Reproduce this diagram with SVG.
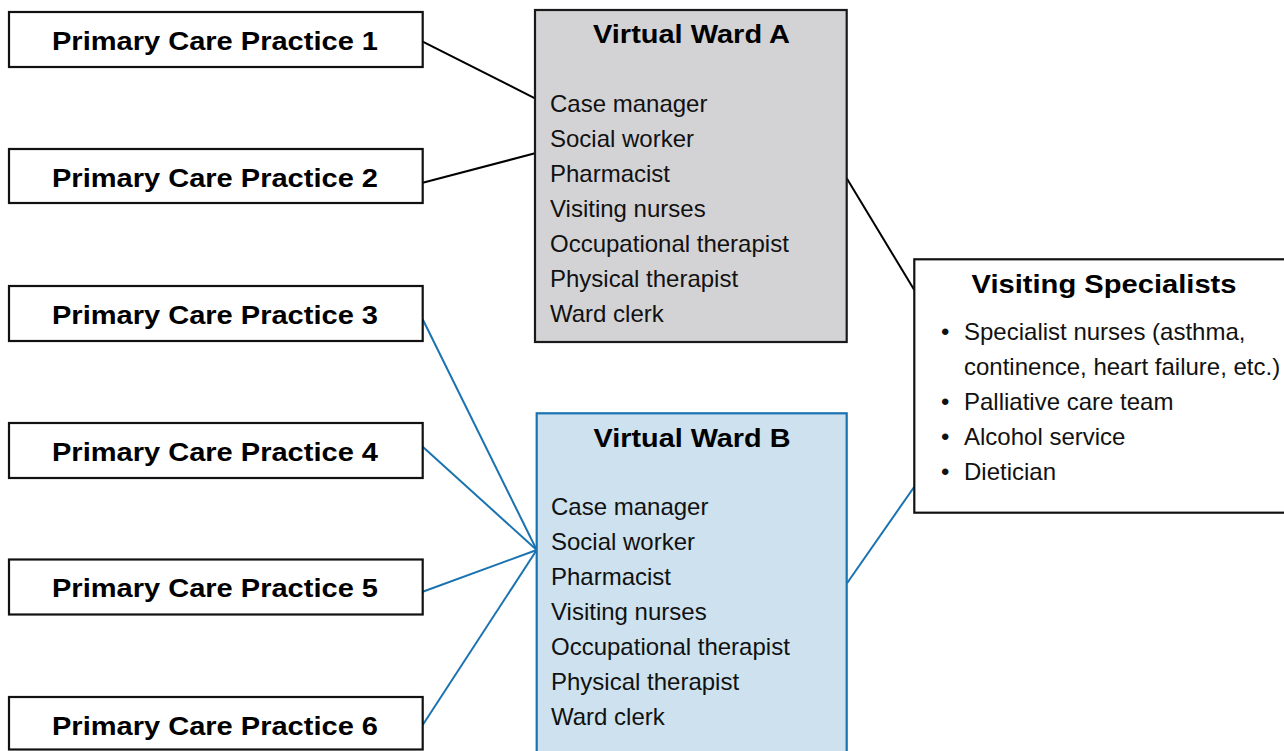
<svg xmlns="http://www.w3.org/2000/svg" width="1284" height="751" viewBox="0 0 1284 751">
<style>
.pcp{fill:#ffffff;stroke:#111111;stroke-width:2.2}
.b{font-family:"Liberation Sans",Arial,sans-serif;font-weight:bold;font-size:25.5px;fill:#000;text-anchor:middle}
.r{font-family:"Liberation Sans",Arial,sans-serif;font-size:24px;fill:#111}
.k{stroke:#000;stroke-width:2;fill:none}
.u{stroke:#1a73b0;stroke-width:2;fill:none}
</style>
<rect width="1284" height="751" fill="#ffffff"/>
<g id="connectors">
<line class="k" x1="422.7" y1="41.7" x2="535" y2="98.3"/>
<line class="k" x1="422.7" y1="182.7" x2="535" y2="153.3"/>
<line class="k" x1="846.7" y1="178.3" x2="914.3" y2="290"/>
<line class="u" x1="422.7" y1="319.3" x2="536.7" y2="550"/>
<line class="u" x1="422.7" y1="446.7" x2="536.7" y2="550"/>
<line class="u" x1="422.7" y1="591.7" x2="536.7" y2="550"/>
<line class="u" x1="422.7" y1="725" x2="536.7" y2="550"/>
<line class="u" x1="847" y1="583.3" x2="914.3" y2="486.7"/>
</g>
<g id="pcp1"><rect class="pcp" x="9" y="12" width="413.7" height="55"/><text class="b" x="215" y="50" textLength="326" lengthAdjust="spacingAndGlyphs">Primary Care Practice 1</text></g>
<g id="pcp2"><rect class="pcp" x="9" y="149" width="413.7" height="54"/><text class="b" x="215" y="187" textLength="326" lengthAdjust="spacingAndGlyphs">Primary Care Practice 2</text></g>
<g id="pcp3"><rect class="pcp" x="9" y="286" width="413.7" height="55"/><text class="b" x="215" y="323.5" textLength="326" lengthAdjust="spacingAndGlyphs">Primary Care Practice 3</text></g>
<g id="pcp4"><rect class="pcp" x="9" y="423" width="413.7" height="55"/><text class="b" x="215" y="460.5" textLength="326" lengthAdjust="spacingAndGlyphs">Primary Care Practice 4</text></g>
<g id="pcp5"><rect class="pcp" x="9" y="559.5" width="413.7" height="55"/><text class="b" x="215" y="597" textLength="326" lengthAdjust="spacingAndGlyphs">Primary Care Practice 5</text></g>
<g id="pcp6"><rect class="pcp" x="9" y="697" width="413.7" height="52.5"/><text class="b" x="215" y="734.5" textLength="326" lengthAdjust="spacingAndGlyphs">Primary Care Practice 6</text></g>
<g id="wardA">
<rect x="535" y="10" width="311.7" height="332" fill="#d3d3d5" stroke="#1a1a1a" stroke-width="2.2"/>
<text class="b" x="691.5" y="43" textLength="197" lengthAdjust="spacingAndGlyphs">Virtual Ward A</text>
<text class="r" x="550" y="112">Case manager</text>
<text class="r" x="550" y="147">Social worker</text>
<text class="r" x="550" y="182">Pharmacist</text>
<text class="r" x="550" y="217">Visiting nurses</text>
<text class="r" x="550" y="252">Occupational therapist</text>
<text class="r" x="550" y="287">Physical therapist</text>
<text class="r" x="550" y="322">Ward clerk</text>
</g>
<g id="wardB">
<rect x="536.7" y="413.3" width="310" height="345" fill="#cde1ee" stroke="#1a73b0" stroke-width="2.2"/>
<text class="b" x="692" y="447" textLength="197" lengthAdjust="spacingAndGlyphs">Virtual Ward B</text>
<text class="r" x="551" y="515">Case manager</text>
<text class="r" x="551" y="550">Social worker</text>
<text class="r" x="551" y="585">Pharmacist</text>
<text class="r" x="551" y="620">Visiting nurses</text>
<text class="r" x="551" y="655">Occupational therapist</text>
<text class="r" x="551" y="690">Physical therapist</text>
<text class="r" x="551" y="725">Ward clerk</text>
</g>
<g id="specialists">
<rect x="914.3" y="259.3" width="380" height="253.4" fill="#ffffff" stroke="#111111" stroke-width="2.2"/>
<text class="b" x="1104" y="293" textLength="265" lengthAdjust="spacingAndGlyphs">Visiting Specialists</text>
<text class="r" x="941" y="340">•</text><text class="r" x="964" y="340">Specialist nurses (asthma,</text>
<text class="r" x="964" y="375">continence, heart failure, etc.)</text>
<text class="r" x="941" y="410">•</text><text class="r" x="964" y="410">Palliative care team</text>
<text class="r" x="941" y="445">•</text><text class="r" x="964" y="445">Alcohol service</text>
<text class="r" x="941" y="480">•</text><text class="r" x="964" y="480">Dietician</text>
</g>
</svg>
